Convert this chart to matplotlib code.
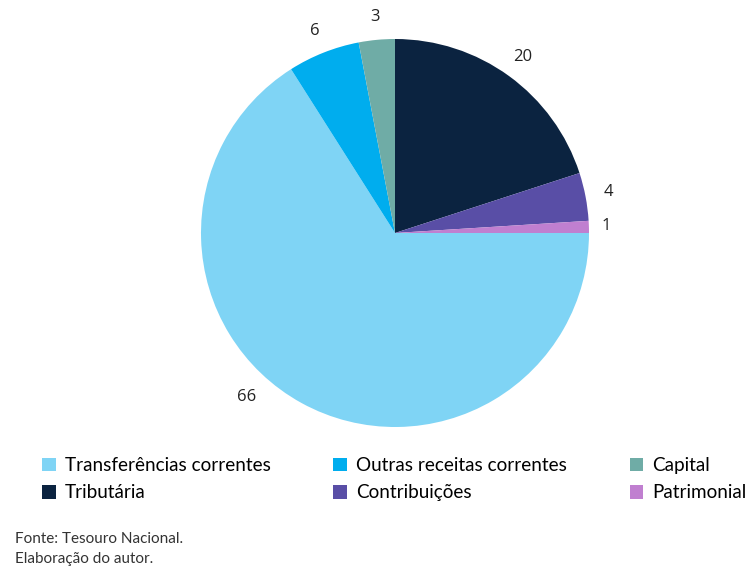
import numpy as np
import matplotlib
matplotlib.use("Agg")
import matplotlib.pyplot as plt

# --- data (order: clockwise from 12 o'clock) ---
categories = ["Tributária", "Contribuições", "Patrimonial",
              "Transferências correntes", "Outras receitas correntes", "Capital"]
values = [20, 4, 1, 66, 6, 3]
colors = ["#0b2340", "#594ea6", "#c07fd0", "#7fd4f5", "#00adee", "#6faca6"]

# legend order as read in the picture (row by row, 3 columns)
legend_order = ["Transferências correntes", "Outras receitas correntes", "Capital",
                "Tributária", "Contribuições", "Patrimonial"]

W, H = 751, 571
fig = plt.figure(figsize=(W / 100, H / 100), dpi=100)

# pie: centre ~(395,233) px, radius ~194 px
r_px = 194
cx, cy = 395, 233
ax = fig.add_axes([(cx - r_px) / W, (H - cy - r_px) / H, 2 * r_px / W, 2 * r_px / H])
wedges, _ = ax.pie(values, colors=colors, startangle=90, counterclock=False,
                   radius=1.0, wedgeprops=dict(linewidth=0))
ax.set_xlim(-1, 1)
ax.set_ylim(-1, 1)
ax.set_aspect("equal")
ax.axis("off")

num_font = dict(family=["Open Sans", "DejaVu Sans"], fontsize=12, color="#222222")
for w, v in zip(wedges, values):
    ang = np.deg2rad((w.theta1 + w.theta2) / 2)
    dist = 1.12 if v > 1 else 1.09
    if v == 66:
        # label of the big slice sits further to the lower left
        ang = np.deg2rad(-132)
        dist = 1.14
    ax.text(dist * np.cos(ang), dist * np.sin(ang), str(v),
            ha="center", va="center", clip_on=False, **num_font)

# legend
by_name = dict(zip(categories, wedges))
handles = [by_name[n] for n in legend_order]
# matplotlib fills legend columns first -> reorder so rows read as in picture
ncol = 3
nrow = 2
idx = [r * ncol + c for c in range(ncol) for r in range(nrow)]
leg = fig.legend([handles[i] for i in idx], [legend_order[i] for i in idx],
                 ncol=ncol, loc="upper left", bbox_to_anchor=(42 / W, 1 - 457 / H),
                 frameon=False, prop=dict(family=["Lato", "DejaVu Sans"], size=13.6),
                 handlelength=0.72, handleheight=0.72, handletextpad=0.5,
                 columnspacing=3.3, labelspacing=0.55, borderaxespad=0, borderpad=0)

# footer
foot = dict(family=["Lato", "DejaVu Sans"], fontsize=11,
            color="#333333", ha="left", va="center")
fig.text(15 / W, 1 - 539 / H, "Fonte: Tesouro Nacional.", **foot)
fig.text(15 / W, 1 - 559 / H, "Elaboração do autor.", **foot)

fig.savefig("out.png", dpi=100, facecolor="white")
